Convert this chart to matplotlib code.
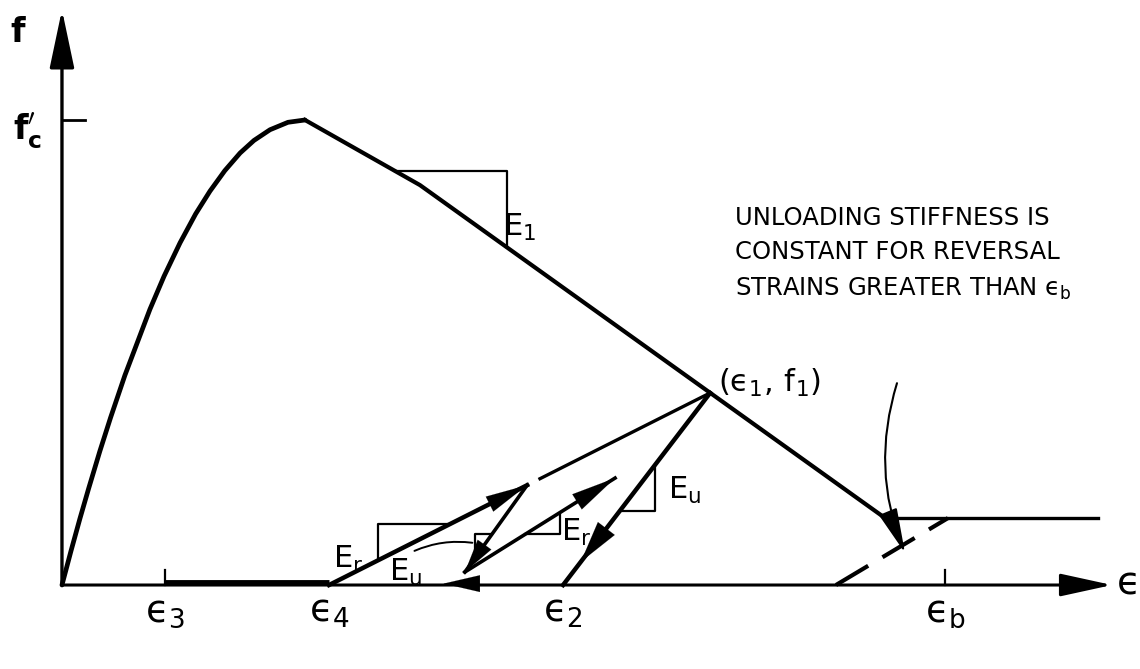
import numpy as np
import matplotlib
matplotlib.use("Agg")
import matplotlib.pyplot as plt
from matplotlib.patches import FancyArrowPatch, ArrowStyle

# strain in units of the peak strain, stress in units of f'c
rise_eps = [0.0, 0.037, 0.074, 0.11, 0.156, 0.2, 0.259, 0.362, 0.42, 0.486,
            0.55, 0.609, 0.67, 0.733, 0.79, 0.856, 0.93, 1.0]
rise_f = [0.0, 0.073, 0.143, 0.208, 0.288, 0.36, 0.451, 0.593, 0.664, 0.736,
          0.798, 0.847, 0.891, 0.929, 0.956, 0.979, 0.995, 1.0]
fall_eps = [1.0, 1.473, 3.387, 4.263]
fall_f = [1.0, 0.860, 0.144, 0.144]

eps1, f1 = 2.667, 0.413      # reversal point on the envelope
eps2 = 2.062                 # end of unloading
eps3 = 0.424
eps4 = 1.099                 # start of reloading
eps_b = 3.634
partial_top = 1.914          # partial reloading reversal
partial_bot = (1.658, 0.028)
reload2_tip = (2.276, 0.230)
dash_from, dash_to = (3.185, 0.0), (3.646, 0.144)

tick_labels = [r"$\mathregular{ϵ_3}$", r"$\mathregular{ϵ_4}$",
               r"$\mathregular{ϵ_2}$", r"$\mathregular{ϵ_b}$"]
tick_pos = [eps3, eps4, eps2, eps_b]

fig = plt.figure(figsize=(11.4, 6.69), dpi=100)
ax = fig.add_axes([0, 0, 1, 1])
ax.set_xlim(-0.255, 4.436)
ax.set_ylim(-0.1806, 1.258)
ax.axis("off")

k = "black"


def arrow(p0, p1, hl=1.5, hw=0.35, lw=2.2, ms=20):
    a = FancyArrowPatch(p0, p1, arrowstyle=ArrowStyle("-|>", head_length=hl, head_width=hw),
                        mutation_scale=ms, color=k, lw=lw, shrinkA=0, shrinkB=0)
    ax.add_patch(a)


def on_line(p, q, e):
    return p[1] + (q[1] - p[1]) * (e - p[0]) / (q[0] - p[0])


# axes with arrows
arrow((0, 0), (0, 1.237), hl=1.8, hw=0.38, lw=2.4)
arrow((0, 0), (4.321, 0), hl=1.6, hw=0.35, lw=2.2)
ax.plot([0, 0.095], [1.0, 1.0], color=k, lw=2)
ax.plot([eps3, eps3], [0, 0.032], color=k, lw=1.6)
ax.plot([eps_b, eps_b], [0, 0.032], color=k, lw=1.6)
ax.plot([eps3, eps4], [0.006, 0.006], color=k, lw=3.5, solid_capstyle="butt")

# envelope
ax.plot(rise_eps, rise_f, color=k, lw=3.4, solid_capstyle="round")
ax.plot(fall_eps[:3], fall_f[:3], color=k, lw=3.0, solid_joinstyle="round")
ax.plot(fall_eps[2:], fall_f[2:], color=k, lw=2.4)

# unloading from (eps1, f1) to eps2
p1 = (eps1, f1)
p2 = (eps2, 0.0)
ax.plot([p1[0], p2[0]], [p1[1], p2[1]], color=k, lw=3.2)
e_mid = 2.135
arrow((2.24, on_line(p2, p1, 2.24)), (e_mid, on_line(p2, p1, e_mid)), hl=1.5, hw=0.38, lw=0.1)

# along the strain axis back to eps4
arrow((1.72, 0.003), (1.57, 0.003), hl=1.3, hw=0.3, lw=0.1)

# reloading from eps4
p4 = (eps4, 0.0)
pa = (partial_top, on_line(p4, p1, partial_top))
ax.plot([eps4, pa[0]], [0, pa[1]], color=k, lw=3.2)
arrow((pa[0] - 0.15, on_line(p4, p1, pa[0] - 0.15)), pa, hl=1.5, hw=0.3, lw=0.1)
e_gap = 1.967
ax.plot([e_gap, eps1], [on_line(p4, p1, e_gap), f1], color=k, lw=2.4)

# partial unloading and reloading
ax.plot([pa[0], partial_bot[0]], [pa[1], partial_bot[1]], color=k, lw=2.6)
arrow((partial_bot[0] + 0.09, on_line(pa, partial_bot, partial_bot[0] + 0.09)), partial_bot,
      hl=1.2, hw=0.3, lw=0.1)
ax.plot([partial_bot[0], reload2_tip[0]], [partial_bot[1], reload2_tip[1]], color=k, lw=2.6)
arrow((reload2_tip[0] - 0.17, on_line(partial_bot, reload2_tip, reload2_tip[0] - 0.17)),
      reload2_tip, hl=1.6, hw=0.32, lw=0.1)

# dashed unloading path beyond eps_b
ax.plot([dash_from[0], dash_to[0]], [dash_from[1], dash_to[1]], color=k, lw=3.0,
        dashes=(9, 4))


# slope triangles
def tri(p, q, ea, eb, corner):
    fa, fb = on_line(p, q, ea), on_line(p, q, eb)
    if corner == "upper_left":
        xs, ys = [ea, ea, eb], [fa, fb, fb]
    else:
        xs, ys = [ea, eb, eb], [fa, fa, fb]
    ax.plot(xs, ys, color=k, lw=1.6)


fa1 = np.interp(1.37, fall_eps, fall_f)
fb1 = np.interp(1.831, fall_eps, fall_f)
ax.plot([1.37, 1.831, 1.831], [fa1, fa1, fb1], color=k, lw=1.6)
tri(p4, p1, 1.30, 1.597, "upper_left")
tri(partial_bot, pa, 1.70, 1.77, "upper_left")
tri(partial_bot, reload2_tip, 1.905, 2.049, "lower_right")
tri(p2, p1, 2.296, 2.44, "lower_right")

fs = 22
ax.text(-0.181, 1.189, "f", fontsize=24, fontweight="bold", ha="center", va="center")
ax.text(-0.14, 0.975, r"$\mathbf{f_c^{\prime}}$", fontsize=24, ha="center", va="center")
for lab, e in zip(tick_labels, tick_pos):
    ax.text(e, -0.058, lab, fontsize=27, ha="center", va="center")
ax.text(4.39, 0.004, "ϵ", fontsize=28, ha="center", va="center")
ax.text(2.70, 0.434, r"$\mathregular{(ϵ_1,\,f_1)}$", fontsize=fs, ha="left", va="center")
ax.text(1.885, 0.768, r"$\mathregular{E_1}$", fontsize=fs, ha="center", va="center")
ax.text(1.177, 0.054, r"$\mathregular{E_r}$", fontsize=fs, ha="center", va="center")
ax.text(1.412, 0.026, r"$\mathregular{E_u}$", fontsize=fs, ha="center", va="center")
ax.text(2.115, 0.112, r"$\mathregular{E_r}$", fontsize=fs, ha="center", va="center")
ax.text(2.56, 0.204, r"$\mathregular{E_u}$", fontsize=fs, ha="center", va="center")

# leader from the small E_u label
lead = FancyArrowPatch((1.44, 0.071), (1.70, 0.090), arrowstyle="-",
                       connectionstyle="arc3,rad=-0.15", color=k, lw=1.4)
ax.add_patch(lead)

ax.text(2.77, 0.815, "UNLOADING STIFFNESS IS\nCONSTANT FOR REVERSAL\n"
        r"STRAINS GREATER THAN $\mathregular{ϵ_b}$", fontsize=17.5, ha="left", va="top",
        linespacing=1.55)
note = FancyArrowPatch((3.436, 0.434), (3.469, 0.069),
                       arrowstyle=ArrowStyle("-|>", head_length=1.4, head_width=0.3),
                       mutation_scale=20, connectionstyle="arc3,rad=0.18",
                       color=k, lw=1.5, shrinkA=0, shrinkB=0)
ax.add_patch(note)

fig.savefig("out.png", dpi=100)
